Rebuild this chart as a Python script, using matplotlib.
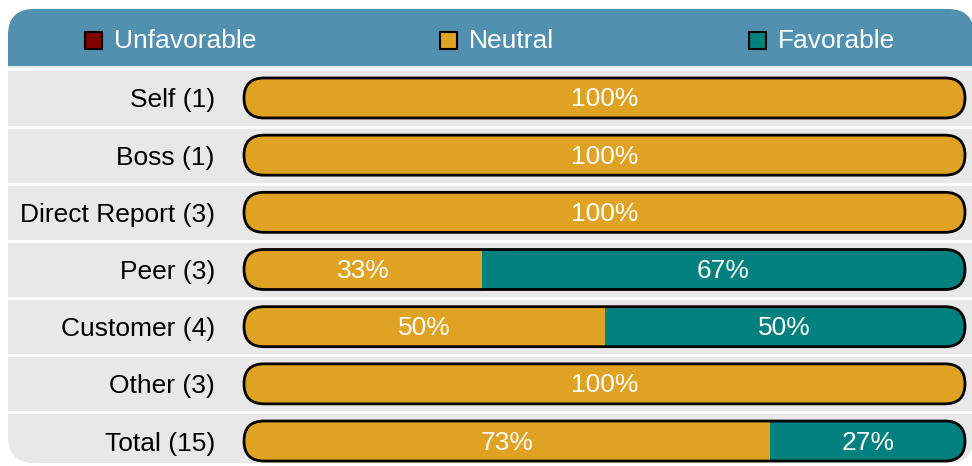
import matplotlib
matplotlib.use("Agg")
import matplotlib.pyplot as plt
from matplotlib.patches import FancyBboxPatch, Rectangle
import matplotlib.transforms as mtransforms

plt.rcParams['font.family'] = ['Liberation Sans', 'DejaVu Sans']

# data
categories = ["Self (1)", "Boss (1)", "Direct Report (3)", "Peer (3)",
              "Customer (4)", "Other (3)", "Total (15)"]
unfavorable = [0, 0, 0, 0, 0, 0, 0]
neutral = [100, 100, 100, 33, 50, 100, 73]
favorable = [0, 0, 0, 67, 50, 0, 27]
series_names = ["Unfavorable", "Neutral", "Favorable"]
series_colors = ["#800000", "#E0A223", "#00807F"]

W, H = 972, 466
fig = plt.figure(figsize=(W / 100, H / 100), dpi=100)

# background axes in pixel units for the panel decoration
bg = fig.add_axes([0, 0, 1, 1])
bg.set_xlim(0, W)
bg.set_ylim(H, 0)
bg.axis("off")

panel = FancyBboxPatch((8, 9), 966, 454, boxstyle="round,pad=0,rounding_size=26",
                       facecolor="#E8E8E8", edgecolor="none", zorder=0)
bg.add_patch(panel)
header = Rectangle((0, 0), W + 10, 66, facecolor="#5190AF", edgecolor="none",
                   zorder=1)
bg.add_patch(header)
header.set_clip_path(panel)

# legend in the header
legend_x = [85, 440, 749]
for name, col, lx in zip(series_names, series_colors, legend_x):
    bg.add_patch(Rectangle((lx, 32), 17, 17, facecolor=col, edgecolor="black",
                           lw=1.5, zorder=3))
    bg.text(lx + 29, 41.5, name, color="white", fontsize=19, va="center",
            ha="left", zorder=3)

# bar axes
x0, x1 = 244, 965
top, bottom = 69.4, 469.6
ax = fig.add_axes([x0 / W, (H - bottom) / H, (x1 - x0) / W, (bottom - top) / H])
ax.set_xlim(0, 100)
ax.set_ylim(len(categories) - 0.5, -0.5)
ax.patch.set_visible(False)
for s in ax.spines.values():
    s.set_visible(False)
ax.set_xticks([])
ax.set_yticks(range(len(categories)))
ax.set_yticklabels(categories, fontsize=19)
ax.tick_params(axis="y", length=0, pad=21)
for lbl in ax.get_yticklabels():
    lbl.set_y(lbl.get_position()[1])

# white row separators
blend = mtransforms.blended_transform_factory(bg.transData, ax.transData)
for i in range(len(categories)):
    y = i - 0.5
    bg.plot([8, 980], [y, y], color="white", lw=2, transform=blend, zorder=2,
            clip_on=False)

# aspect for rounded caps
fig.canvas.draw()
p0 = ax.transData.transform((0, 0))
p1 = ax.transData.transform((1, 1))
aspect = abs((p1[0] - p0[0]) / (p1[1] - p0[1]))
px_y = 1 / abs(p1[1] - p0[1])  # one pixel in row units

bar_h = 0.7
radius = bar_h / 2 / aspect
for i, cat in enumerate(categories):
    shape = FancyBboxPatch((0, i - bar_h / 2), 100, bar_h,
                           boxstyle=f"round,pad=0,rounding_size={radius}",
                           mutation_aspect=aspect, facecolor="none",
                           edgecolor="none", transform=ax.transData)
    ax.add_patch(shape)
    left = 0
    for vals, col in zip([unfavorable, neutral, favorable], series_colors):
        v = vals[i]
        if v <= 0:
            continue
        bars = ax.barh(i, v, left=left, height=bar_h, color=col, edgecolor="none",
                       zorder=2)
        for b in bars:
            b.set_clip_path(shape)
        ax.text(left + v / 2, i + 1.5 * px_y, f"{v}%", color="white", fontsize=19,
                ha="center", va="center", zorder=4)
        left += v
    outline = FancyBboxPatch((0, i - bar_h / 2), 100, bar_h,
                             boxstyle=f"round,pad=0,rounding_size={radius}",
                             mutation_aspect=aspect, facecolor="none",
                             edgecolor="black", lw=2, zorder=3, clip_on=False)
    ax.add_patch(outline)

fig.savefig("out.png", dpi=100)
